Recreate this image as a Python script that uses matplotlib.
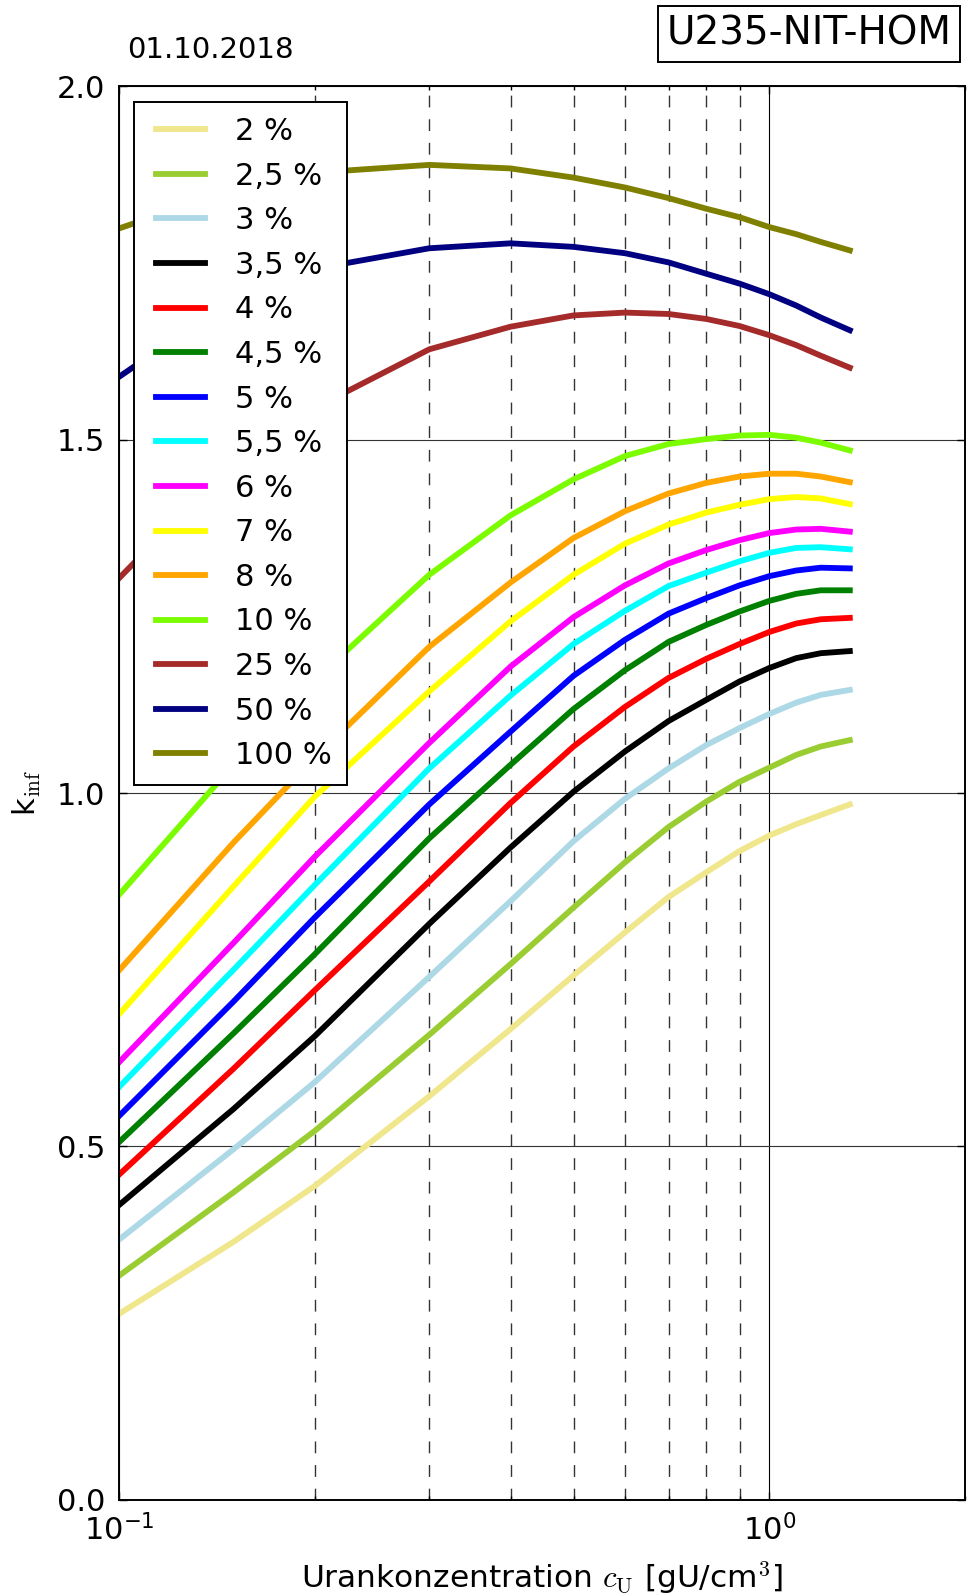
import matplotlib
matplotlib.use('Agg')
import matplotlib.pyplot as plt
from matplotlib.ticker import FormatStrFormatter
from matplotlib.legend_handler import HandlerLine2D
from matplotlib.lines import Line2D

plt.rcParams['mathtext.fontset'] = 'cm'

# uranium concentration grid [gU/cm^3]
conc = [0.1, 0.15, 0.2, 0.3, 0.4, 0.5, 0.6, 0.7, 0.8, 0.9, 1.0, 1.1, 1.2, 1.33]

# k_inf per enrichment
k_2 = [0.263, 0.365, 0.444, 0.571, 0.666, 0.742, 0.803, 0.853, 0.888, 0.918, 0.940, 0.956, 0.969, 0.984]
k_2_5 = [0.317, 0.435, 0.522, 0.658, 0.758, 0.838, 0.902, 0.952, 0.988, 1.016, 1.036, 1.054, 1.066, 1.075]
k_3 = [0.368, 0.496, 0.591, 0.740, 0.847, 0.932, 0.992, 1.035, 1.068, 1.092, 1.112, 1.128, 1.139, 1.146]
k_3_5 = [0.417, 0.553, 0.656, 0.815, 0.923, 1.002, 1.059, 1.102, 1.132, 1.158, 1.177, 1.191, 1.198, 1.201]
k_4 = [0.460, 0.610, 0.721, 0.875, 0.986, 1.066, 1.122, 1.163, 1.190, 1.211, 1.228, 1.240, 1.246, 1.248]
k_4_5 = [0.506, 0.660, 0.772, 0.936, 1.040, 1.119, 1.174, 1.214, 1.238, 1.257, 1.272, 1.282, 1.287, 1.287]
k_5 = [0.543, 0.705, 0.824, 0.984, 1.087, 1.166, 1.217, 1.254, 1.276, 1.294, 1.307, 1.315, 1.319, 1.318]
k_5_5 = [0.584, 0.750, 0.870, 1.035, 1.138, 1.211, 1.258, 1.293, 1.312, 1.328, 1.340, 1.347, 1.348, 1.345]
k_6 = [0.619, 0.788, 0.910, 1.071, 1.179, 1.249, 1.294, 1.325, 1.344, 1.358, 1.368, 1.373, 1.374, 1.370]
k_7 = [0.687, 0.868, 0.995, 1.144, 1.243, 1.309, 1.353, 1.380, 1.397, 1.408, 1.416, 1.419, 1.417, 1.409]
k_8 = [0.749, 0.930, 1.050, 1.207, 1.298, 1.361, 1.399, 1.424, 1.439, 1.448, 1.452, 1.452, 1.448, 1.440]
k_10 = [0.856, 1.040, 1.160, 1.309, 1.393, 1.444, 1.477, 1.494, 1.501, 1.506, 1.507, 1.503, 1.496, 1.485]
k_25 = [1.304, 1.470, 1.545, 1.628, 1.660, 1.676, 1.680, 1.678, 1.671, 1.661, 1.648, 1.634, 1.619, 1.602]
k_50 = [1.589, 1.700, 1.742, 1.771, 1.778, 1.773, 1.764, 1.751, 1.735, 1.721, 1.706, 1.690, 1.673, 1.655]
k_100 = [1.799, 1.855, 1.878, 1.889, 1.884, 1.871, 1.857, 1.842, 1.827, 1.815, 1.801, 1.791, 1.780, 1.768]

series = [k_2, k_2_5, k_3, k_3_5, k_4, k_4_5, k_5, k_5_5, k_6, k_7, k_8, k_10, k_25, k_50, k_100]
labels = ['2 %', '2,5 %', '3 %', '3,5 %', '4 %', '4,5 %', '5 %', '5,5 %', '6 %', '7 %',
          '8 %', '10 %', '25 %', '50 %', '100 %']
colors = ['khaki', 'yellowgreen', 'lightblue', 'black', 'red', 'green', 'blue', 'cyan',
          'magenta', 'yellow', 'orange', 'lawngreen', 'brown', 'navy', 'olive']

fig = plt.figure(figsize=(9.69, 15.95), dpi=100)
ax = fig.add_axes([0.1228, 0.0597, 0.8731, 0.8861])

for vals, lab, col in zip(series, labels, colors):
    ax.plot(conc, vals, color=col, lw=4.2, label=lab)

ax.set_xscale('log')
ax.set_xlim(0.1, 2.0)
ax.set_ylim(0.0, 2.0)
ax.set_yticks([0.0, 0.5, 1.0, 1.5, 2.0])
ax.yaxis.set_major_formatter(FormatStrFormatter('%.1f'))

ax.grid(axis='y', which='major', ls='-', color='0.2', lw=0.8)
ax.grid(axis='x', which='major', ls='-', color='k', lw=0.8)
ax.grid(axis='x', which='minor', ls=(0, (8.5, 8.5)), color='0.2', lw=1.0)

ax.tick_params(which='both', direction='in', top=True, right=True, labelsize=22)
ax.tick_params(which='major', length=6, width=1)
ax.tick_params(which='minor', length=3, width=1)
ax.tick_params(axis='y', pad=10)
ax.tick_params(axis='x', pad=10)
for sp in ax.spines.values():
    sp.set_linewidth(1.4)

ax.set_xlabel(r'Urankonzentration $c_{\mathrm{U}}$ [gU/cm$^3$]', fontsize=22.5, labelpad=10)
ax.set_ylabel(r'k$_{\mathrm{inf}}$', fontsize=22, labelpad=10)

leg = ax.legend(loc='upper left', fontsize=22, fancybox=False, framealpha=1,
                edgecolor='k', handlelength=1.8, handletextpad=1.0,
                labelspacing=0.51, borderpad=0.5, borderaxespad=0.5,
                handler_map={Line2D: HandlerLine2D(xpad=0.2)})
leg.get_frame().set_linewidth(1.4)

fig.text(0.131, 0.9687, '01.10.2018', fontsize=21, ha='left', va='center')
fig.text(0.8345, 0.9787, 'U235-NIT-HOM', fontsize=28, ha='center', va='center',
         bbox=dict(boxstyle='square,pad=0.22', fc='white', ec='k', lw=1.4))

fig.savefig('out.png', dpi=100)
